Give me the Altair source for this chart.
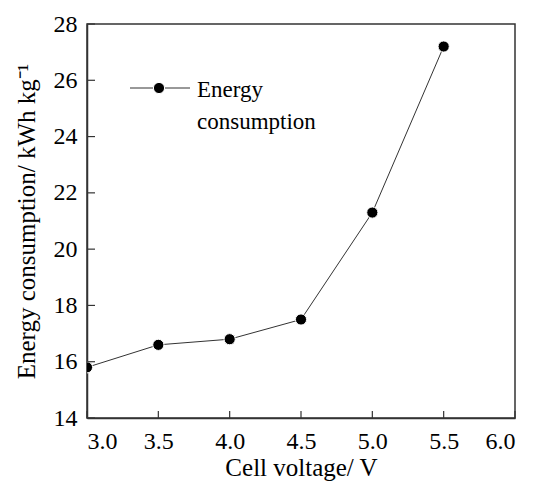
import altair as alt
import pandas as pd

voltage = [3.0, 3.5, 4.0, 4.5, 5.0, 5.5]
energy = [15.8, 16.6, 16.8, 17.5, 21.3, 27.2]
x_ticks = [3.0, 3.5, 4.0, 4.5, 5.0, 5.5, 6.0]
y_ticks = [14, 16, 18, 20, 22, 24, 26, 28]
legend_label = ["Energy", "consumption"]

W, H = 428, 394
FONT = "'Liberation Serif', 'Times New Roman', serif"
DARK = "#333333"

df = pd.DataFrame({"v": voltage, "e": energy})
xt = pd.DataFrame({"t": x_ticks})
yt = pd.DataFrame({"t": y_ticks})
one = pd.DataFrame({"k": [0]})

xs = alt.Scale(domain=[3.0, 6.0], nice=False, zero=False)
ys = alt.Scale(domain=[14, 28], nice=False, zero=False)

xaxis = alt.Axis(values=x_ticks, format=".1f", tickSize=0, labelPadding=11,
                 title="Cell voltage/ V", titleY=57, titleBaseline="alphabetic",
                 grid=False)
yaxis = alt.Axis(values=y_ticks, format="d", tickSize=0, labelPadding=10,
                 title="Energy consumption/ kWh kg\u207b\u00b9", titleX=-53, titleY=H / 2,
                 titleAngle=270, titleAlign="center", titleBaseline="alphabetic",
                 grid=False)

line = alt.Chart(df).mark_line(color=DARK, strokeWidth=1, clip=True).encode(
    x=alt.X("v:Q", scale=xs, axis=xaxis),
    y=alt.Y("e:Q", scale=ys, axis=yaxis),
)
pts = alt.Chart(df).mark_point(filled=True, shape="circle", size=125, color="black",
                               stroke="white", strokeWidth=1, opacity=1, clip=True).encode(
    x=alt.X("v:Q", scale=xs), y=alt.Y("e:Q", scale=ys),
    fill=alt.value("black"), stroke=alt.value("white"),
)
xtick = alt.Chart(xt).mark_rule(color=DARK, strokeWidth=1.2).encode(
    x=alt.X("t:Q", scale=xs), y=alt.value(H), y2=alt.value(H - 7)
)
ytick = alt.Chart(yt).mark_rule(color=DARK, strokeWidth=1.2).encode(
    y=alt.Y("t:Q", scale=ys), x=alt.value(0), x2=alt.value(8)
)
leg_line = alt.Chart(one).mark_rule(color=DARK, strokeWidth=1).encode(
    x=alt.value(43), x2=alt.value(103), y=alt.value(64)
)
leg_pt = alt.Chart(one).mark_point(filled=True, shape="circle", size=125, color="black",
                                   opacity=1).encode(
    x=alt.value(72), y=alt.value(64), stroke=alt.value("white"), strokeWidth=alt.value(1)
)
leg_text = alt.Chart(one).mark_text(font=FONT, fontSize=23, align="left",
                                    baseline="alphabetic", lineHeight=32,
                                    color="black").encode(
    x=alt.value(110), y=alt.value(73), text=alt.value(legend_label)
)

chart = alt.layer(line, pts, xtick, ytick, leg_line, leg_pt, leg_text).properties(
    width=W, height=H,
    autosize=alt.AutoSizeParams(type="none"),
    padding={"left": 79, "top": 16, "right": 6, "bottom": 64},
).configure_view(
    stroke=DARK, strokeWidth=1.5
).configure_axis(
    labelFont=FONT, titleFont=FONT, labelFontSize=24, titleFontSize=25,
    labelColor="black", titleColor="black", titleFontWeight="normal",
    domainColor=DARK, domainWidth=1.5,
)

chart.save("out.html", embed_options={"renderer": "svg", "actions": False})
